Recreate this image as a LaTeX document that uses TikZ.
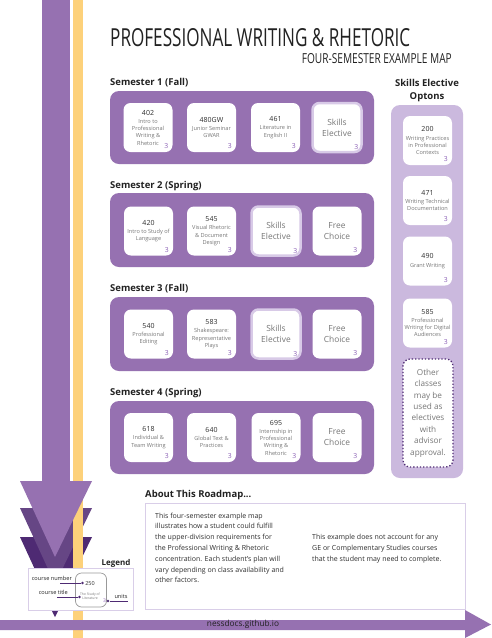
\documentclass[tikz,border=0pt]{standalone}
\usepackage{fontspec}
\setmainfont{Open Sans}
\usepackage{graphicx}
\definecolor{pmain}{HTML}{9671B1}
\definecolor{pmed}{HTML}{664685}
\definecolor{pdark}{HTML}{4E2A73}
\definecolor{plight}{HTML}{CBB9DE}
\definecolor{pring}{HTML}{D8CAE7}
\definecolor{pborder}{HTML}{D9CEE8}
\definecolor{stripyellow}{HTML}{FDD17A}
\definecolor{numgray}{HTML}{2E2E2E}
\definecolor{ttlgray}{HTML}{777777}
\definecolor{unitc}{HTML}{8A5FB5}
\definecolor{txtdark}{HTML}{222222}
\newcommand\numst{\fontsize{7}{7.5}\selectfont\color{numgray}}
\newcommand\crs[5]{%
  \node[card] (#1) at (#2,#3) {};
  \node[ctext] (#1-t) at (#1.center) {{\numst #4}\\[1.2pt]#5};
  \node[unit] (#1-u) at ([shift={(-6.5,-6)}]#1.south east) {3};}
\newcommand\elec[4]{%
  \node[card,ering] (#1) at (#2,#3) {};
  \node[btext] (#1-t) at (#1.center) {#4};
  \node[unit] (#1-u) at ([shift={(-6.5,-6)}]#1.south east) {3};}
\newcommand\free[4]{%
  \node[card] (#1) at (#2,#3) {};
  \node[btext] (#1-t) at (#1.center) {#4};
  \node[unit] (#1-u) at ([shift={(-6.5,-6)}]#1.south east) {3};}
\begin{document}
\begin{tikzpicture}[x=1pt,y=-1pt,
  card/.style={fill=white,rounded corners=7pt,minimum width=49pt,minimum height=49pt,inner sep=0pt},
  ering/.style={draw=pring,line width=2.5pt},
  ctext/.style={align=center,inner sep=0pt,text=ttlgray,font=\fontsize{5.6}{7.2}\selectfont},
  btext/.style={align=center,inner sep=0pt,text=ttlgray,font=\fontsize{8.4}{11}\selectfont},
  unit/.style={inner sep=0pt,text=unitc,font=\fontsize{6.8}{7}\selectfont},
  panel/.style={fill=pmain,rounded corners=9pt},
  semlabel/.style={anchor=west,inner sep=0pt,text=txtdark,font=\fontsize{9.5}{11}\selectfont\bfseries},
  lgtext/.style={inner sep=0pt,text=txtdark,font=\fontsize{5.6}{6}\selectfont},
  lgline/.style={draw=pdark,line width=0.8pt},
  lgdot/.style={circle,fill=pdark,inner sep=0pt,minimum size=2.6pt}]
\useasboundingbox (0,0) rectangle (491,638);
\fill[white] (0,0) rectangle (491,638);
% left bars and arrows
\fill[pmain] (42,0) rectangle (70,485);
\fill[pdark] (20,537) -- (92,537) -- (55,613) -- cycle;
\fill[pmed] (20,508) -- (92,508) -- (55,584) -- cycle;
\fill[fill=stripyellow] (73,0) rectangle (83,638);
\fill[pmain] (20,481) -- (92,481) -- (55,557) -- cycle;
% title
\node[anchor=base west,inner sep=0pt,text=txtdark] (title) at (110,46)
  {\resizebox{300pt}{18pt}{PROFESSIONAL WRITING \& RHETORIC}};
\node[anchor=base east,inner sep=0pt,text=txtdark] (subtitle) at (452,63)
  {\resizebox{150pt}{10pt}{FOUR-SEMESTER EXAMPLE MAP}};
% semester 1
\node[semlabel] (s1l) at (110,83) {Semester 1 (Fall)};
\fill[panel] (110,91) rectangle (374,164);
\crs{c402}{148}{127.5}{402}{Intro to\\Professional\\Writing \&\\Rhetoric}
\crs{c480}{211.5}{127.5}{480GW}{Junior Seminar\\GWAR}
\crs{c461}{275.5}{127.5}{461}{Literature in\\English II}
\elec{s1e}{337}{127.5}{Skills\\Elective}
% semester 2
\node[semlabel] (s2l) at (110,186) {Semester 2 (Spring)};
\fill[panel] (110,193) rectangle (374,267);
\crs{c420}{148.5}{231}{420}{Intro to Study of\\Language}
\crs{c545}{211.5}{231}{545}{Visual Rhetoric\\\& Document\\Design}
\elec{s2e}{276}{231}{Skills\\Elective}
\free{s2f}{337}{231}{Free\\Choice}
% semester 3
\node[semlabel] (s3l) at (110,289) {Semester 3 (Fall)};
\fill[panel] (110,297) rectangle (374,371);
\crs{c540}{148.5}{334}{540}{Professional\\Editing}
\crs{c583}{211.5}{334}{583}{Shakespeare:\\Representative\\Plays}
\elec{s3e}{276}{334}{Skills\\Elective}
\free{s3f}{337}{334}{Free\\Choice}
% semester 4
\node[semlabel] (s4l) at (110,393) {Semester 4 (Spring)};
\fill[panel] (110,401) rectangle (374,474);
\crs{c618}{148.5}{437.5}{618}{Individual \&\\Team Writing}
\crs{c640}{211.5}{437.5}{640}{Global Text \&\\Practices}
\crs{c695}{276}{437.5}{695}{Internship in\\Professional\\Writing \&\\Rhetoric}
\free{s4f}{337}{437.5}{Free\\Choice}
% skills elective options
\node[align=center,inner sep=0pt,text=txtdark,font=\fontsize{9.5}{13}\selectfont\bfseries] (seo) at (427,90.5) {Skills Elective\\Optons};
\fill[plight,rounded corners=9pt] (391,105) rectangle (463,478);
\crs{o200}{427.5}{140.5}{200}{Writing Practices\\in Professional\\Contexts}
\crs{o471}{427.5}{200.5}{471}{Writing Technical\\Documentation}
\crs{o490}{427.5}{261}{490}{Grant Writing}
\crs{o585}{427.5}{323}{585}{Professional\\Writing for Digital\\Audiences}
\node[fill=white,draw=pdark,dotted,line width=1.3pt,rounded corners=7pt,minimum width=50pt,minimum height=108pt,inner sep=0pt] (other) at (428,413) {};
\node[align=center,inner sep=0pt,text=ttlgray,font=\fontsize{8.2}{11.4}\selectfont] (other-t) at (other.center) {Other\\classes\\may be\\used as\\electives\\with\\advisor\\approval.};
% about
\node[anchor=west,inner sep=0pt,text=txtdark,font=\fontsize{9.5}{11}\selectfont\bfseries] (abl) at (145,495) {About This Roadmap...};
\node[draw=pborder,fill=white,line width=1pt,minimum width=320pt,minimum height=106pt,inner sep=0pt] (about) at (305,556) {};
\node[anchor=north west,align=left,inner sep=0pt,text=numgray,font=\fontsize{7}{10.8}\selectfont] (abt1) at (155,512.5)
  {This four-semester example map\\illustrates how a student could fulfill\\the upper-division requirements for\\the Professional Writing \& Rhetoric\\concentration. Each student’s plan will\\vary depending on class availability and\\other factors.};
\node[anchor=north west,align=left,inner sep=0pt,text=numgray,font=\fontsize{7}{10.8}\selectfont] (abt2) at (312,534.2)
  {This example does not account for any\\GE or Complementary Studies courses\\that the student may need to complete.};
% legend
\node[draw=pborder,fill=white,line width=1pt,minimum width=105pt,minimum height=42pt,inner sep=0pt] (legend) at (80.5,589) {};
\node[inner sep=0pt,text=txtdark,font=\fontsize{8}{9}\selectfont\bfseries] (lgt) at (116,563) {Legend};
\node[draw=gray!80,fill=white,line width=0.7pt,rounded corners=6pt,minimum width=31pt,minimum height=34pt,inner sep=0pt] (lcard) at (91,590) {};
\node[inner sep=0pt,text=numgray,font=\fontsize{5.5}{6}\selectfont] (l250) at (90,584) {250};
\node[align=center,inner sep=0pt,text=ttlgray,font=\fontsize{3.4}{4}\selectfont] (lst) at (90,596) {The Study of\\Literature};
\node[inner sep=0pt,text=unitc,font=\fontsize{5}{6}\selectfont] (l3) at (104.5,600.5) {3};
\node[lgdot] (dn) at (82.5,583) {};
\node[lgdot] (dt) at (79.5,597) {};
\node[lgdot] (du) at (108,601) {};
\coordinate (ln) at (60,583);
\coordinate (lt) at (57,597);
\coordinate (lu) at (128,601);
\draw[lgline] (ln) -- (dn);
\draw[lgline] (lt) -- (dt);
\draw[lgline] (du) -- (lu);
\node[lgtext,anchor=base east] (lgn) at (72,580) {course number};
\node[lgtext,anchor=base east] (lgc) at (68,594.5) {course title};
\node[lgtext,anchor=base] (lgu) at (121,598.5) {units};
\fill[pdark] (52,611) -- (58,611) -- (55,617) -- cycle;
% footer arrow
\fill[pmain] (0,620) -- (465,620) -- (465,610) -- (491,624.5) -- (465,638) -- (465,630) -- (0,630) -- cycle;
\node[inner sep=0pt,text=txtdark,font=\fontsize{8.3}{9}\selectfont] (foot) at (243,624.5) {nessdocs.github.io};
\end{tikzpicture}
\end{document}
